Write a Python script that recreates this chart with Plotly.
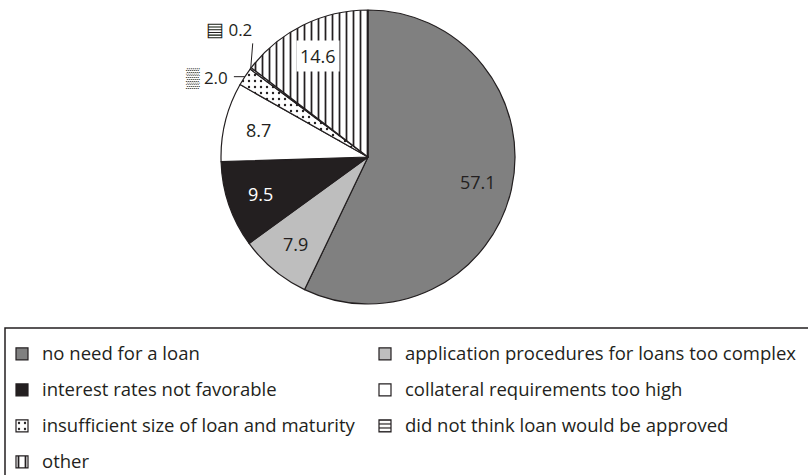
import math
import plotly.graph_objects as go

# Reasons for not applying for a loan (percent of firms)
categories = [
    "no need for a loan",
    "application procedures for loans too complex",
    "interest rates not favorable",
    "collateral requirements too high",
    "insufficient size of loan and maturity",
    "did not think loan would be approved",
    "other",
]
shares = [57.1, 7.9, 9.5, 8.7, 2.0, 0.2, 14.6]

# slice styling
fill_colors = ["#808080", "#bebebe", "#231f20", "#ffffff", "#ffffff", "#ffffff", "#ffffff"]
pattern_shapes = ["", "", "", "", ".", "-", "|"]
pattern_sizes = [6, 6, 6, 6, 6, 4, 7]
pattern_solidity = [0.3, 0.3, 0.3, 0.3, 0.12, 0.3, 0.25]
label_colors = ["#231f20", "#231f20", "#ffffff", "#231f20", "#231f20", "#231f20", "#231f20"]
key_glyphs = {4: "\u2592", 5: "\u25a4"}

INK = "#231f20"
W, H = 808, 475
CX, CY, R = 368, 157, 147   # pie centre and radius in pixels
FONT = "Open Sans"


def px_to_paper(px, py):
    return px / W, 1 - py / H


# legend labels: normal-size text inside tall legend rows
legend_labels = [
    f"<span style='font-size:18.5px;baseline-shift:4px'>{c}</span>" for c in categories
]

fig = go.Figure()
fig.add_trace(go.Pie(
    labels=legend_labels,
    values=shares,
    sort=False,
    direction="clockwise",
    rotation=0,
    textinfo="none",
    hoverinfo="skip",
    domain=dict(
        x=[(CX - R) / W, (CX + R) / W],
        y=[1 - (CY + R) / H, 1 - (CY - R) / H],
    ),
    marker=dict(
        colors=fill_colors,
        line=dict(color=INK, width=1.2),
        pattern=dict(
            shape=pattern_shapes,
            bgcolor=fill_colors,
            fgcolor=INK,
            size=pattern_sizes,
            solidity=pattern_solidity,
            fillmode="replace",
        ),
    ),
))

# value labels placed at each slice's mid angle
total = sum(shares)
annotations = []
cum = 0.0
for i, v in enumerate(shares):
    mid = (cum + v / 2) / total * 2 * math.pi
    cum += v
    if i in key_glyphs:
        ex, ey = CX + R * math.sin(mid), CY - R * math.cos(mid)
        xp, yp = px_to_paper(ex, ey)
        txt = f"<span style='font-size:19px'>{key_glyphs[i]}</span> {v:.1f}"
        if i == 4:
            annotations.append(dict(
                x=xp, y=yp, xref="paper", yref="paper", text=txt,
                showarrow=True, arrowhead=0, arrowwidth=1, arrowcolor=INK,
                ax=-11, ay=0, xanchor="right", yanchor="middle", borderpad=5,
                font=dict(family=FONT, size=17, color=label_colors[i]),
            ))
        else:
            annotations.append(dict(
                x=xp, y=yp, xref="paper", yref="paper", text=txt,
                showarrow=True, arrowhead=0, arrowwidth=1, arrowcolor=INK,
                ax=2, ay=-25, xanchor="right", yanchor="bottom", borderpad=0,
                font=dict(family=FONT, size=17, color=label_colors[i]),
            ))
    else:
        rr = 0.77 * R
        lx, ly = CX + rr * math.sin(mid), CY - rr * math.cos(mid)
        xp, yp = px_to_paper(lx, ly)
        boxed = pattern_shapes[i] != ""
        annotations.append(dict(
            x=xp, y=yp, xref="paper", yref="paper", text=f"{v:.1f}",
            showarrow=False, xanchor="center", yanchor="middle",
            bgcolor="#ffffff" if boxed else None, borderpad=3,
            font=dict(family=FONT, size=18, color=label_colors[i]),
        ))

# frame around the legend
lx0, ly0 = px_to_paper(5, 328)
shapes = [dict(
    type="rect", xref="paper", yref="paper",
    x0=lx0, y0=-0.05, x1=1.05, y1=ly0,
    line=dict(color=INK, width=1.5), fillcolor="rgba(0,0,0,0)",
)]

lgx, lgy = px_to_paper(2, 327)
fig.update_layout(
    width=W, height=H,
    margin=dict(l=0, r=0, t=0, b=0, autoexpand=False),
    paper_bgcolor="#ffffff",
    plot_bgcolor="#ffffff",
    showlegend=True,
    legend=dict(
        orientation="h",
        x=lgx, y=lgy, xanchor="left", yanchor="top",
        entrywidth=318, entrywidthmode="pixels",
        font=dict(family=FONT, size=25.4, color=INK),
        bgcolor="rgba(0,0,0,0)", borderwidth=0,
        traceorder="normal",
        # transparent spacer title keeps the legend wide enough for long labels
        title=dict(text="M" * 298, side="top",
                   font=dict(family=FONT, size=3, color="rgba(0,0,0,0)")),
    ),
    annotations=annotations,
    shapes=shapes,
)

fig.write_html("out.html")
